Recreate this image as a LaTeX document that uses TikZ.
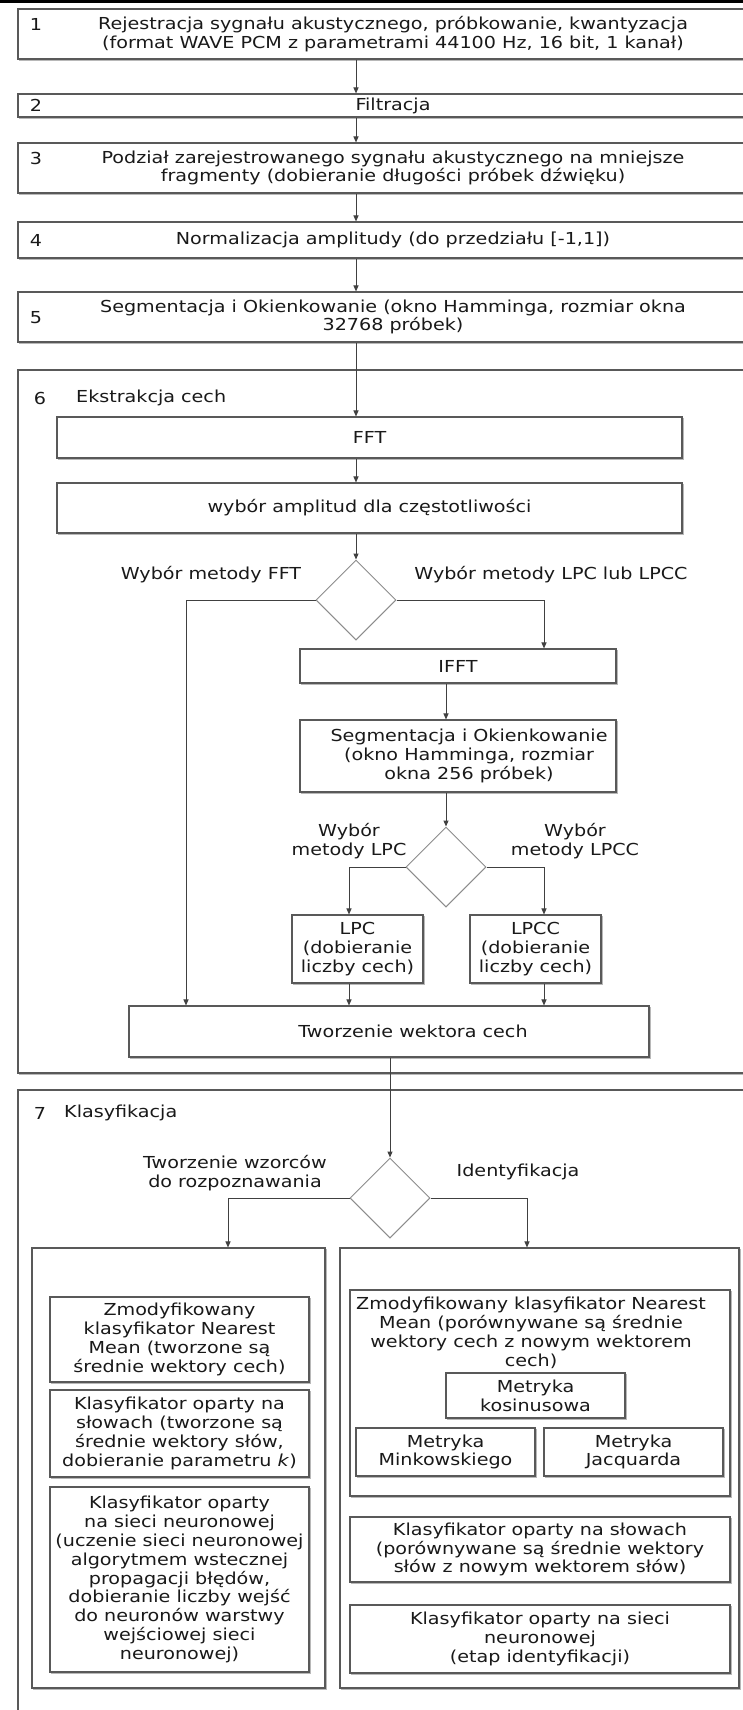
\documentclass[tikz,border=0pt]{standalone}
\usepackage{fontspec}
\setmainfont{DejaVu Sans}[FakeStretch=1.16]
\usetikzlibrary{shapes.geometric,arrows.meta,shadows}
\newcommand\diagfont{\fontsize{16.5}{18.8}\selectfont}
\tikzset{
  box/.style={draw=black!65, line width=1.1pt, fill=white, inner sep=0pt, align=center,
    general shadow={shadow xshift=1.4pt, shadow yshift=-1.4pt, draw=black!28, fill=none, line width=1.1pt}},
  dec/.style={diamond, draw=black!45, line width=1pt, fill=white, inner sep=0pt,
    minimum width=80pt, minimum height=80pt},
  arr/.style={draw=black!75, line width=1pt, -{Triangle[length=6pt,width=5pt]}},
  lbl/.style={inner sep=0pt, align=center},
}
\begin{document}
\begin{tikzpicture}[x=1pt, y=-1pt, font=\diagfont, text=black!90]
\clip (0,0) rectangle (743,1710);
\fill[white] (0,0) rectangle (743,1710);
\fill[black] (0,0) rectangle (743,3.5);

% branch positions of the vertical connectors
\coordinate (spine) at (356,0);
\coordinate (xfft) at (186,0);
\coordinate (xlpc) at (349,0);
\coordinate (xseg) at (446,0);
\coordinate (xlpcc) at (544,0);
\coordinate (xtw) at (390,0);
\coordinate (xl) at (228,0);
\coordinate (xr) at (527,0);

% stages 1-5
\node[box, minimum width=750pt, minimum height=50pt] (b1) at (393,34)
  {Rejestracja sygnału akustycznego, próbkowanie, kwantyzacja\\(format WAVE PCM z parametrami 44100 Hz, 16 bit, 1 kanał)};
\node[lbl] (n1) at (36,24) {1};
\node[box, minimum width=750pt, minimum height=23pt] (b2) at (393,105.5) {Filtracja};
\node[lbl] (n2) at (36,105.5) {2};
\node[box, minimum width=750pt, minimum height=50pt] (b3) at (393,168)
  {Podział zarejestrowanego sygnału akustycznego na mniejsze\\fragmenty (dobieranie długości próbek dźwięku)};
\node[lbl] (n3) at (36,158) {3};
\node[box, minimum width=750pt, minimum height=36pt] (b4) at (393,240)
  {Normalizacja amplitudy (do przedziału [-1,1])};
\node[lbl] (n4) at (36,240) {4};
\node[box, minimum width=750pt, minimum height=50pt] (b5) at (393,317)
  {Segmentacja i Okienkowanie (okno Hamminga, rozmiar okna\\32768 próbek)};
\node[lbl] (n5) at (36,318) {5};

% stage 6: feature extraction
\node[box, minimum width=750pt, minimum height=703pt] (b6) at (393,721.5) {};
\node[lbl] (n6) at (40,398) {6};
\node[lbl, anchor=west] (h6) at (76,398) {Ekstrakcja cech};
\node[box, minimum width=625pt, minimum height=41pt] (fft) at (369.5,437.5) {FFT};
\node[box, minimum width=625pt, minimum height=50pt] (wyb) at (369.5,508) {wybór amplitud dla częstotliwości};
\node[dec] (d1) at (356,600) {};
\node[lbl] (t1) at (211,575) {Wybór metody FFT};
\node[lbl] (t2) at (551,575) {Wybór metody LPC lub LPCC};
\node[box, minimum width=316pt, minimum height=34pt] (ifft) at (458,666) {IFFT};
\node[box, minimum width=316pt, minimum height=72pt,
  label={[lbl, xshift=11pt]center:Segmentacja i Okienkowanie\\(okno Hamminga, rozmiar\\okna 256 próbek)}] (seg) at (458,756) {};
\node[dec] (d2) at (446,867) {};
\node[lbl] (t3) at (349,841) {Wybór\\metody LPC};
\node[lbl] (t4) at (575,841) {Wybór\\metody LPCC};
\node[box, minimum width=131pt, minimum height=68pt] (lpc) at (357.5,949) {LPC\\(dobieranie\\liczby cech)};
\node[box, minimum width=131pt, minimum height=68pt] (lpcc) at (535.5,949) {LPCC\\(dobieranie\\liczby cech)};
\node[box, minimum width=520pt, minimum height=51pt,
  label={[lbl, xshift=24pt]center:Tworzenie wektora cech}] (tw) at (389,1031.5) {};

% stage 7: classification
\node[box, minimum width=750pt, minimum height=670pt] (b7) at (393,1425) {};
\node[lbl] (n7) at (40,1113) {7};
\node[lbl, anchor=west] (h7) at (64,1113) {Klasyfikacja};
\node[dec] (d3) at (390,1198) {};
\node[lbl] (t5) at (235,1173) {Tworzenie wzorców\\do rozpoznawania};
\node[lbl] (t6) at (518,1172) {Identyfikacja};

\node[box, minimum width=293pt, minimum height=440pt] (lsub) at (178.5,1468) {};
\node[box, minimum width=399pt, minimum height=440pt] (rsub) at (539.5,1468) {};

\node[box, minimum width=259pt, minimum height=85pt] (l1) at (179.5,1339.5)
  {Zmodyfikowany\\klasyfikator Nearest\\Mean (tworzone są\\średnie wektory cech)};
\node[box, minimum width=259pt, minimum height=87pt] (l2) at (179.5,1433.5)
  {Klasyfikator oparty na\\słowach (tworzone są\\średnie wektory słów,\\dobieranie parametru \textit{k})};
\node[box, minimum width=259pt, minimum height=185pt] (l3) at (179.5,1579.5)
  {Klasyfikator oparty\\na sieci neuronowej\\(uczenie sieci neuronowej\\algorytmem wstecznej\\propagacji błędów,\\dobieranie liczby wejść\\do neuronów warstwy\\wejściowej sieci\\neuronowej)};

\node[box, minimum width=380pt, minimum height=206pt] (r1) at (540,1393) {};
\node[lbl] (r1t) at (531,1333)
  {Zmodyfikowany klasyfikator Nearest\\Mean (porównywane są średnie\\wektory cech z nowym wektorem\\cech)};
\node[box, minimum width=179pt, minimum height=45pt] (cos) at (535.5,1395.5) {Metryka\\kosinusowa};
\node[box, minimum width=179pt, minimum height=48pt] (mink) at (445.5,1452) {Metryka\\Minkowskiego};
\node[box, minimum width=179pt, minimum height=48pt] (jac) at (633.5,1452) {Metryka\\Jacquarda};
\node[box, minimum width=380pt, minimum height=65pt] (r2) at (540,1549.5)
  {Klasyfikator oparty na słowach\\(porównywane są średnie wektory\\słów z nowym wektorem słów)};
\node[box, minimum width=380pt, minimum height=68pt] (r3) at (540,1639)
  {Klasyfikator oparty na sieci\\neuronowej\\(etap identyfikacji)};

% connectors
\draw[arr] (b1.south -| spine) -- (b2.north -| spine);
\draw[arr] (b2.south -| spine) -- (b3.north -| spine);
\draw[arr] (b3.south -| spine) -- (b4.north -| spine);
\draw[arr] (b4.south -| spine) -- (b5.north -| spine);
\draw[arr] (b5.south -| spine) -- (fft.north -| spine);
\draw[arr] (fft.south -| spine) -- (wyb.north -| spine);
\draw[arr] (wyb.south -| spine) -- (d1.north);
\draw[arr] (d1.west) -| (tw.north -| xfft);
\draw[arr] (d1.east) -| (ifft.north -| xlpcc);
\draw[arr] (ifft.south -| xseg) -- (seg.north -| xseg);
\draw[arr] (seg.south -| xseg) -- (d2.north);
\draw[arr] (d2.west) -| (lpc.north -| xlpc);
\draw[arr] (d2.east) -| (lpcc.north -| xlpcc);
\draw[arr] (lpc.south -| xlpc) -- (tw.north -| xlpc);
\draw[arr] (lpcc.south -| xlpcc) -- (tw.north -| xlpcc);
\draw[arr] (tw.south -| xtw) -- (d3.north);
\draw[arr] (d3.west) -| (lsub.north -| xl);
\draw[arr] (d3.east) -| (rsub.north -| xr);
\end{tikzpicture}
\end{document}
